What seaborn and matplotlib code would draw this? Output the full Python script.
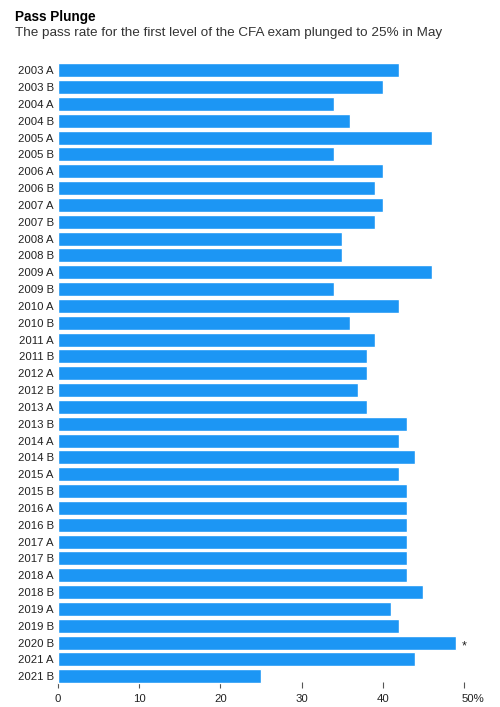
import matplotlib
matplotlib.use("Agg")
import matplotlib.pyplot as plt
import matplotlib.transforms as mtransforms
import seaborn as sns

# exam sittings (A = first sitting, B = second sitting of the year)
sittings = ["2003 A", "2003 B", "2004 A", "2004 B", "2005 A", "2005 B",
            "2006 A", "2006 B", "2007 A", "2007 B", "2008 A", "2008 B",
            "2009 A", "2009 B", "2010 A", "2010 B", "2011 A", "2011 B",
            "2012 A", "2012 B", "2013 A", "2013 B", "2014 A", "2014 B",
            "2015 A", "2015 B", "2016 A", "2016 B", "2017 A", "2017 B",
            "2018 A", "2018 B", "2019 A", "2019 B", "2020 B", "2021 A",
            "2021 B"]
# level I pass rate, %
pass_rate = [42, 40, 34, 36, 46, 34,
             40, 39, 40, 39, 35, 35,
             46, 34, 42, 36, 39, 38,
             38, 37, 38, 43, 42, 44,
             42, 43, 43, 43, 43, 43,
             43, 45, 41, 42, 49, 44,
             25]
x_ticks = [0, 10, 20, 30, 40, 50]
x_tick_labels = ["0", "10", "20", "30", "40", "50%"]
footnote_sitting = "2020 B"

bar_color = "#1c96f4"

sns.set_theme(style="white")
plt.rcParams["font.family"] = ["Liberation Sans", "DejaVu Sans"]

fig = plt.figure(figsize=(5, 7.07), dpi=100)
ax = fig.add_axes([0.116, 0.0315, 0.812, 0.881])

sns.barplot(x=pass_rate, y=sittings, orient="h", color=bar_color,
            saturation=1, width=0.83, ax=ax)

ax.set_xlim(0, 50)
ax.set_ylim(len(sittings) - 0.5, -0.5)
sns.despine(ax=ax, left=True, bottom=True)
ax.set_axisbelow(True)

ax.set_xticks(x_ticks)
ax.set_xticklabels(x_tick_labels)
ax.tick_params(axis="x", direction="inout", length=5, width=0.8, color="#555555",
               pad=4, labelsize=8.2, labelcolor="#222222", bottom=True)
ax.tick_params(axis="y", length=0, pad=3, labelsize=8.2, labelcolor="#222222")
ax.set_xlabel("")
ax.set_ylabel("")

# push the "50%" label right so the number sits on the tick
last = ax.get_xticklabels()[-1]
last.set_transform(last.get_transform() +
                   mtransforms.ScaledTranslation(9 / 100, 0, fig.dpi_scale_trans))

# footnote marker next to the 2020 B bar
i = sittings.index(footnote_sitting)
ax.annotate("*", xy=(pass_rate[i], i), xytext=(8, -4), textcoords="offset pixels",
            ha="center", va="center", fontsize=9, color="#222222",
            annotation_clip=False)

fig.text(0.03, 0.976, "Pass Plunge", fontsize=9.8, fontweight="bold",
         color="#000000", va="center")
fig.text(0.03, 0.953,
         "The pass rate for the first level of the CFA exam plunged to 25% in May",
         fontsize=9.7, color="#333333", va="center")

fig.savefig("out.png", dpi=100, facecolor="white")
